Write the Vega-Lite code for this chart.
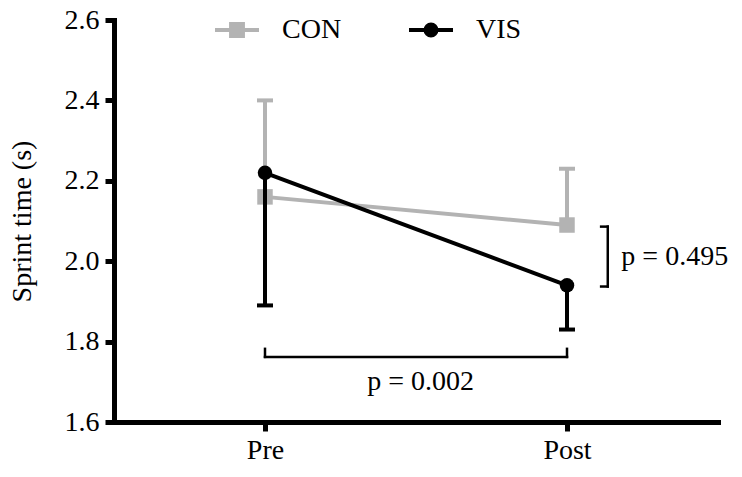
{
  "$schema": "https://vega.github.io/schema/vega-lite/v6.json",
  "width": 604,
  "height": 402,
  "autosize": "none",
  "padding": {"left": 114, "top": 20, "right": 24, "bottom": 55},
  "background": "white",
  "datasets": {
    "sprint": [
      {"group": "CON", "time": 0, "mean": 2.16, "err": 2.40},
      {"group": "CON", "time": 1, "mean": 2.09, "err": 2.23},
      {"group": "VIS", "time": 0, "mean": 2.22, "err": 1.89},
      {"group": "VIS", "time": 1, "mean": 1.94, "err": 1.83}
    ],
    "brackets": [
      {"x": 0, "x2": 1, "y": 1.762, "y2": 1.762},
      {"x": 0, "x2": 0, "y": 1.762, "y2": 1.782},
      {"x": 1, "x2": 1, "y": 1.762, "y2": 1.782},
      {"x": 1.135, "x2": 1.135, "y": 1.937, "y2": 2.086},
      {"x": 1.113, "x2": 1.135, "y": 2.086, "y2": 2.086},
      {"x": 1.113, "x2": 1.135, "y": 1.937, "y2": 1.937}
    ],
    "notes": [
      {"x": 0.515, "y": 1.70, "label": "p = 0.002", "anchor": "center"},
      {"x": 1.18, "y": 2.01, "label": "p = 0.495", "anchor": "left"}
    ]
  },
  "layer": [
    {
      "data": {"name": "sprint"},
      "transform": [{"filter": "datum.group === 'CON'"}],
      "mark": {"type": "rule", "strokeWidth": 4},
      "encoding": {
        "x": {"field": "time", "type": "quantitative", "scale": {"domain": [-0.5, 1.5], "nice": false, "zero": false},
              "axis": {"values": [0, 1], "labelExpr": "datum.value === 0 ? 'Pre' : 'Post'", "title": null, "labelPadding": 5}},
        "y": {"field": "mean", "type": "quantitative", "scale": {"domain": [1.6, 2.6], "nice": false, "zero": false},
              "axis": {"values": [1.6, 1.8, 2.0, 2.2, 2.4, 2.6], "format": ".1f", "title": "Sprint time (s)", "labelPadding": 6, "titlePadding": 28}},
        "y2": {"field": "err"},
        "color": {"field": "group", "type": "nominal",
                  "scale": {"domain": ["CON", "VIS"], "range": ["#b3b3b3", "#000000"]},
                  "legend": {
                    "orient": "none", "legendX": 99, "legendY": -14, "direction": "horizontal", "title": null,
                    "symbolSize": 1936, "symbolStrokeWidth": 4,
                    "labelFont": "Liberation Serif, Times New Roman, serif", "labelFontSize": 28, "labelColor": "black",
                    "labelOffset": 21, "columnPadding": 59,
                    "encode": {"symbols": {"update": {
                      "shape": {"signal": "datum.value === 'CON' ? 'M-1,0H1M-0.27,-0.27H0.27V0.27H-0.27Z' : 'M-1,0H1M-0.25,0A0.25,0.25,0,1,0,0.25,0A0.25,0.25,0,1,0,-0.25,0Z'"},
                      "stroke": {"signal": "datum.value === 'CON' ? '#b3b3b3' : '#000000'"},
                      "fill": {"signal": "datum.value === 'CON' ? '#b3b3b3' : '#000000'"},
                      "strokeWidth": {"value": 4},
                      "opacity": {"value": 1}
                    }}}
                  }}
      }
    },
    {
      "data": {"name": "sprint"},
      "transform": [{"filter": "datum.group === 'CON'"}],
      "mark": {"type": "tick", "orient": "horizontal", "size": 16, "thickness": 4, "opacity": 1},
      "encoding": {
        "x": {"field": "time", "type": "quantitative"},
        "y": {"field": "err", "type": "quantitative"},
        "color": {"field": "group", "type": "nominal"}
      }
    },
    {
      "data": {"name": "sprint"},
      "transform": [{"filter": "datum.group === 'CON'"}],
      "mark": {"type": "line", "strokeWidth": 4},
      "encoding": {
        "x": {"field": "time", "type": "quantitative"},
        "y": {"field": "mean", "type": "quantitative"},
        "color": {"field": "group", "type": "nominal"}
      }
    },
    {
      "data": {"name": "sprint"},
      "transform": [{"filter": "datum.group === 'CON'"}],
      "mark": {"type": "point", "shape": "square", "filled": true, "size": 240, "opacity": 1},
      "encoding": {
        "x": {"field": "time", "type": "quantitative"},
        "y": {"field": "mean", "type": "quantitative"},
        "color": {"field": "group", "type": "nominal"}
      }
    },
    {
      "data": {"name": "sprint"},
      "transform": [{"filter": "datum.group === 'VIS'"}],
      "mark": {"type": "rule", "strokeWidth": 4},
      "encoding": {
        "x": {"field": "time", "type": "quantitative"},
        "y": {"field": "mean", "type": "quantitative"},
        "y2": {"field": "err"},
        "color": {"field": "group", "type": "nominal"}
      }
    },
    {
      "data": {"name": "sprint"},
      "transform": [{"filter": "datum.group === 'VIS'"}],
      "mark": {"type": "tick", "orient": "horizontal", "size": 16, "thickness": 4, "opacity": 1},
      "encoding": {
        "x": {"field": "time", "type": "quantitative"},
        "y": {"field": "err", "type": "quantitative"},
        "color": {"field": "group", "type": "nominal"}
      }
    },
    {
      "data": {"name": "sprint"},
      "transform": [{"filter": "datum.group === 'VIS'"}],
      "mark": {"type": "line", "strokeWidth": 4},
      "encoding": {
        "x": {"field": "time", "type": "quantitative"},
        "y": {"field": "mean", "type": "quantitative"},
        "color": {"field": "group", "type": "nominal"}
      }
    },
    {
      "data": {"name": "sprint"},
      "transform": [{"filter": "datum.group === 'VIS'"}],
      "mark": {"type": "point", "shape": "circle", "filled": true, "size": 210, "opacity": 1},
      "encoding": {
        "x": {"field": "time", "type": "quantitative"},
        "y": {"field": "mean", "type": "quantitative"},
        "color": {"field": "group", "type": "nominal"}
      }
    },
    {
      "data": {"name": "brackets"},
      "mark": {"type": "rule", "color": "black", "strokeWidth": 2.5, "strokeCap": "square"},
      "encoding": {
        "x": {"field": "x", "type": "quantitative"},
        "x2": {"field": "x2"},
        "y": {"field": "y", "type": "quantitative"},
        "y2": {"field": "y2"}
      }
    },
    {
      "data": {"name": "notes"},
      "transform": [{"filter": "datum.anchor === 'center'"}],
      "mark": {"type": "text", "font": "Liberation Serif, Times New Roman, serif", "fontSize": 28, "color": "black", "baseline": "middle", "align": "center"},
      "encoding": {
        "x": {"field": "x", "type": "quantitative"},
        "y": {"field": "y", "type": "quantitative"},
        "text": {"field": "label"}
      }
    },
    {
      "data": {"name": "notes"},
      "transform": [{"filter": "datum.anchor === 'left'"}],
      "mark": {"type": "text", "font": "Liberation Serif, Times New Roman, serif", "fontSize": 28, "color": "black", "baseline": "middle", "align": "left"},
      "encoding": {
        "x": {"field": "x", "type": "quantitative"},
        "y": {"field": "y", "type": "quantitative"},
        "text": {"field": "label"}
      }
    }
  ],
  "config": {
    "view": {"stroke": null},
    "axis": {
      "domainColor": "black", "domainWidth": 5, "domainCap": "square",
      "tickColor": "black", "tickWidth": 5, "tickSize": 9,
      "labelFont": "Liberation Serif, Times New Roman, serif", "labelFontSize": 28, "labelColor": "black",
      "titleFont": "Liberation Serif, Times New Roman, serif", "titleFontSize": 28, "titleFontWeight": "normal", "titleColor": "black",
      "grid": false
    }
  }
}
